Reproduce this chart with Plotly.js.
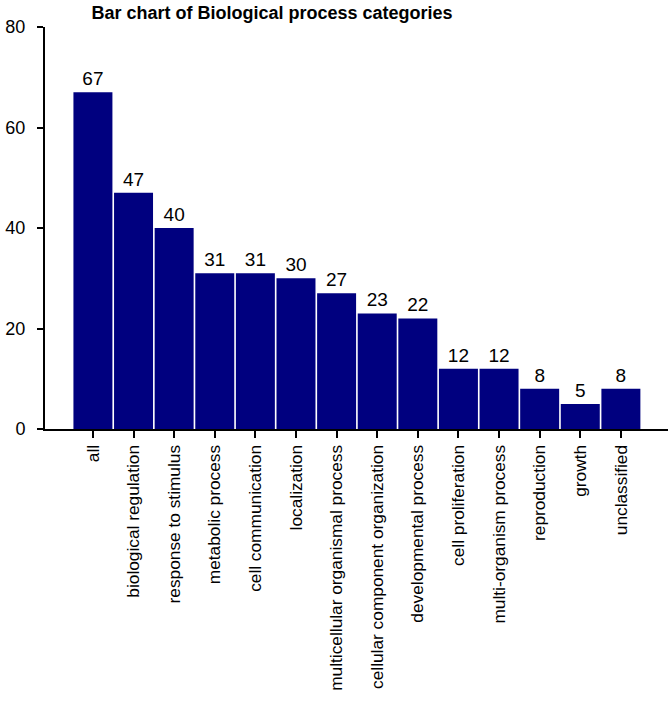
<!DOCTYPE html>
<html>
<head>
<meta charset="utf-8">
<script src="https://cdn.plot.ly/plotly-3.0.1.min.js"></script>
<style>html,body{margin:0;padding:0;background:#fff;}#chart{width:670px;height:719px;}</style>
</head>
<body>
<div id="chart"></div>
<script>
var categories = ["all","biological regulation","response to stimulus","metabolic process","cell communication","localization","multicellular organismal process","cellular component organization","developmental process","cell proliferation","multi-organism process","reproduction","growth","unclassified"];
var counts = [67,47,40,31,31,30,27,23,22,12,12,8,5,8];
var yTicks = [0,20,40,60,80];

var trace = {
  type: "bar",
  x: categories,
  y: counts,
  marker: {color: "#00007F"},
  text: counts.map(String),
  textposition: "outside",
  textfont: {family: "Liberation Sans, Arial, sans-serif", size: 19, color: "#000"},
  cliponaxis: false,
  hoverinfo: "x+y"
};

var layout = {
  width: 670, height: 719,
  margin: {l: 45, r: 2, t: 27, b: 290},
  paper_bgcolor: "#fff", plot_bgcolor: "#fff",
  bargap: 0.04,
  showlegend: false,
  title: {text: "<b>Bar chart of Biological process categories</b>", x: 0.406, xanchor: "center", y: 0.982, yanchor: "middle",
          font: {family: "Liberation Sans, Arial, sans-serif", size: 18, color: "#000"}},
  font: {family: "Liberation Sans, Arial, sans-serif", color: "#000"},
  xaxis: {
    type: "category",
    range: [-1.18, 14.16],
    showline: true, linecolor: "#000", linewidth: 2,
    ticks: "outside", ticklen: 7, tickwidth: 2, tickcolor: "#000",
    tickangle: -90,
    tickfont: {size: 17.3, color: "#000"},
    showgrid: false, zeroline: false
  },
  yaxis: {
    range: [0, 80],
    tickvals: yTicks,
    showline: true, linecolor: "#000", linewidth: 2,
    ticks: "outside", ticklen: 6, tickwidth: 2, tickcolor: "#000",
    ticklabelstandoff: 8,
    tickfont: {size: 18, color: "#000"},
    showgrid: false, zeroline: false
  }
};

Plotly.newPlot("chart", [trace], layout, {displayModeBar: false, staticPlot: true});
</script>
</body>
</html>
